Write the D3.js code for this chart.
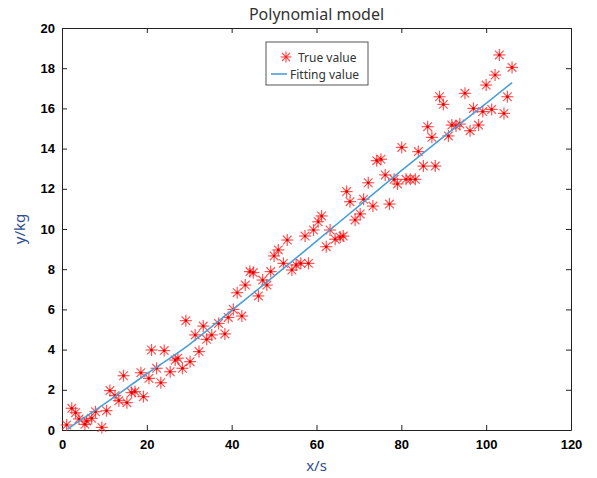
<!DOCTYPE html>
<html lang="en">
<head>
    <meta charset="UTF-8">
    <script src="https://d3js.org/d3.v7.min.js"></script>
    <style>
        body {
            margin: 0;
            background: #fff;
        }

        .tick text {
            font-family: "Liberation Sans", Arial, sans-serif;
            font-weight: bold;
            font-size: 13px;
            fill: #000;
        }

        .tick line, .domain {
            stroke: #222;
        }
    </style>
    <title>Polynomial model</title>
</head>
<body>
<svg id="chart" width="597" height="478"></svg>
<script>
    // 散点（真实值）
    var trueX = [1.1, 2.3, 3.2, 4.0, 5.4, 5.8, 7.0, 7.9, 9.4, 10.5,
        11.3, 12.5, 13.4, 14.5, 15.3, 16.4, 17.2, 18.6, 19.2, 20.5,
        21.1, 22.3, 23.3, 24.1, 25.5, 26.7, 27.3, 28.4, 29.2, 30.2,
        31.4, 32.3, 33.3, 34.1, 35.3, 36.9, 38.4, 39.2, 40.4, 41.3,
        42.4, 43.2, 44.3, 45.1, 46.3, 47.3, 48.3, 49.2, 50.0, 51.0,
        52.2, 53.1, 54.2, 55.2, 56.3, 57.3, 58.1, 59.3, 60.4, 61.2,
        62.3, 63.2, 64.4, 65.6, 66.3, 67.1, 67.9, 69.1, 70.3, 71.1,
        72.2, 73.3, 74.2, 75.2, 76.2, 77.2, 78.3, 79.1, 80.1, 81.1,
        82.1, 83.3, 84.0, 85.2, 86.2, 87.2, 88.0, 89.0, 89.9, 91.1,
        91.9, 92.9, 93.8, 95.0, 96.2, 97.0, 98.2, 99.2, 100.0, 101.3,
        102.1, 103.1, 104.2, 105.0, 106.1]
    var trueY = [0.25, 1.08, 0.86, 0.55, 0.28, 0.45, 0.58, 0.91, 0.13, 0.96,
        1.96, 1.71, 1.46, 2.7, 1.36, 1.86, 1.91, 2.85, 1.66, 2.57,
        3.98, 3.07, 2.35, 3.95, 2.9, 3.48, 3.57, 3.07, 5.44, 3.4,
        4.73, 3.9, 5.17, 4.51, 4.73, 5.3, 4.78, 5.6, 6.0, 6.83,
        5.67, 7.21, 7.88, 7.83, 6.67, 7.46, 7.21, 7.88, 8.66, 8.96,
        8.29, 9.45, 7.96, 8.21, 8.29, 9.65, 8.29, 9.95, 10.36, 10.65,
        9.12, 9.95, 9.49, 9.59, 9.65, 11.86, 11.36, 10.45, 10.75, 11.48,
        12.3, 11.14, 13.4, 13.47, 12.69, 11.24, 12.47, 12.24, 14.06, 12.47,
        12.47, 12.47, 13.85, 13.13, 15.09, 14.56, 13.13, 16.58, 16.2, 14.63,
        15.17, 15.12, 15.22, 16.75, 14.89, 16.0, 15.17, 15.84, 17.16, 15.95,
        17.66, 18.66, 15.75, 16.58, 18.04]

    // 拟合曲线
    var fitX = [1.3, 10, 20, 30, 40, 50, 60, 70, 80, 90, 100, 106.1]
    var fitY = [0.05, 1.3, 2.8, 4.25, 5.95, 7.65, 9.4, 11.15, 12.9, 14.6, 16.25, 17.28]

    var xTicks = [0, 20, 40, 60, 80, 100, 120]
    var yTicks = [0, 2, 4, 6, 8, 10, 12, 14, 16, 18, 20]

    var svg = d3.select("#chart")
    var pLeft = 62, pRight = 571, pTop = 28, pBottom = 430

    var x = d3.scaleLinear().domain([0, 120]).range([pLeft, pRight])
    var y = d3.scaleLinear().domain([0, 20]).range([pBottom, pTop])

    // 坐标轴
    svg.append("g")
        .attr("transform", "translate(0," + pBottom + ")")
        .call(d3.axisBottom(x).tickValues(xTicks).tickSizeInner(-5).tickSizeOuter(0).tickPadding(10))
    svg.append("g")
        .attr("transform", "translate(0," + pTop + ")")
        .call(d3.axisTop(x).tickValues(xTicks).tickSizeInner(-5).tickSizeOuter(0).tickFormat(""))
    svg.append("g")
        .attr("transform", "translate(" + pLeft + ",0)")
        .call(d3.axisLeft(y).tickValues(yTicks).tickSizeInner(-5).tickSizeOuter(0).tickPadding(7))
    svg.append("g")
        .attr("transform", "translate(" + pRight + ",0)")
        .call(d3.axisRight(y).tickValues(yTicks).tickSizeInner(-5).tickSizeOuter(0).tickFormat(""))

    // 星号标记
    function star(g, cx, cy, r) {
        var a = r * 0.72
        var segs = [[-r, 0, r, 0], [0, -r, 0, r], [-a, -a, a, a], [-a, a, a, -a]]
        segs.forEach(function (s) {
            g.append("line")
                .attr("x1", cx + s[0]).attr("y1", cy + s[1])
                .attr("x2", cx + s[2]).attr("y2", cy + s[3])
        })
    }

    var pts = svg.append("g")
        .attr("stroke", "#ff1a1a")
        .attr("stroke-width", 1.2)
        .attr("stroke-opacity", 0.75)
    trueX.forEach(function (d, i) {
        star(pts, x(d), y(trueY[i]), 6)
    })
    pts.selectAll("circle.c")
        .data(trueX)
        .enter()
        .append("circle")
        .attr("cx", function (d) { return x(d) })
        .attr("cy", function (d, i) { return y(trueY[i]) })
        .attr("r", 1.3)
        .attr("fill", "#e00000")
        .attr("stroke", "none")

    // 拟合线
    var line = d3.line()
        .x(function (d) { return x(d[0]) })
        .y(function (d) { return y(d[1]) })
        .curve(d3.curveMonotoneX)
    svg.append("path")
        .datum(fitX.map(function (d, i) { return [d, fitY[i]] }))
        .attr("d", line)
        .attr("fill", "none")
        .attr("stroke", "#4a9fd8")
        .attr("stroke-width", 1.6)

    // 标题和坐标轴标签
    svg.append("text")
        .attr("x", (pLeft + pRight) / 2)
        .attr("y", 20)
        .attr("text-anchor", "middle")
        .style("font-family", "'Noto Sans', sans-serif")
        .style("font-size", "16px")
        .style("fill", "#333")
        .text("Polynomial model")
    svg.append("text")
        .attr("x", (pLeft + pRight) / 2)
        .attr("y", 471)
        .attr("text-anchor", "middle")
        .style("font-family", "'Noto Sans', sans-serif")
        .style("font-size", "15px")
        .style("fill", "#2f4f8f")
        .text("x/s")
    svg.append("text")
        .attr("transform", "translate(25," + (pTop + pBottom) / 2 + ") rotate(-90)")
        .attr("text-anchor", "middle")
        .style("font-family", "'Noto Sans', sans-serif")
        .style("font-size", "15px")
        .style("fill", "#2f4f8f")
        .text("y/kg")

    // 图例
    var lg = svg.append("g")
    lg.append("rect")
        .attr("x", 266).attr("y", 42)
        .attr("width", 102).attr("height", 43)
        .attr("fill", "#fff")
        .attr("stroke", "#555")
    var ls = lg.append("g")
        .attr("stroke", "#ff1a1a")
        .attr("stroke-width", 1.2)
        .attr("stroke-opacity", 0.75)
    star(ls, 286, 57, 5.5)
    lg.append("line")
        .attr("x1", 271).attr("x2", 287)
        .attr("y1", 74).attr("y2", 74)
        .attr("stroke", "#4a9fd8")
        .attr("stroke-width", 1.6)
    lg.append("text")
        .attr("x", 298).attr("y", 61.5)
        .style("font-family", "'Noto Sans', sans-serif")
        .style("font-size", "12px")
        .style("fill", "#333")
        .text("True value")
    lg.append("text")
        .attr("x", 290).attr("y", 78.5)
        .style("font-family", "'Noto Sans', sans-serif")
        .style("font-size", "12px")
        .style("fill", "#333")
        .text("Fitting value")
</script>
</body>
</html>
